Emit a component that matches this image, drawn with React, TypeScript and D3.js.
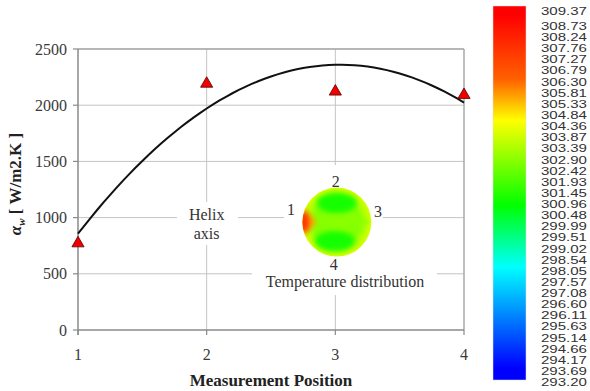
import React from 'react';
import * as d3 from 'd3';

// measured heat transfer coefficient per position
const positions = [1, 2, 3, 4];
const alphaW = [780, 2200, 2130, 2100];
const yTicks = [0, 500, 1000, 1500, 2000, 2500];

// colour legend (K)
const barLabels = [
  '309.37', '308.73', '308.24', '307.76', '307.27', '306.79', '306.30', '305.81', '305.33',
  '304.84', '304.36', '303.87', '303.39', '302.90', '302.42', '301.93', '301.45', '300.96',
  '300.48', '299.99', '299.51', '299.02', '298.54', '298.05', '297.57', '297.08', '296.60',
  '296.11', '295.63', '295.14', '294.66', '294.17', '293.69', '293.20',
];
const colourTemps = [309.6, 309.2, 306.4, 304.6, 300.9, 298.2, 293.8, 293.2];
const colourHex = ['#ff0000', '#ff0000', '#ff6000', '#ffff00', '#00ff00', '#00ffff', '#0000ff', '#0000ff'];

// inset temperature levels
const insetBase = 302.8;
const insetEdge = 304.0;
const insetCool = 301.2;
const insetBand = 302.9;
const insetWarm = 305.6;
const insetHot = 307.6;

// excel-style 2nd order trendline
function polyFit2(xs: number[], ys: number[]) {
  const S = (p: number) => d3.sum(xs, v => v ** p);
  const T = (p: number) => d3.sum(xs.map((v, i) => v ** p * ys[i]));
  const A = [[S(0), S(1), S(2), T(0)], [S(1), S(2), S(3), T(1)], [S(2), S(3), S(4), T(2)]];
  for (let i = 0; i < 3; i++) {
    for (let k = i + 1; k < 3; k++) {
      const f = A[k][i] / A[i][i];
      for (let j = i; j < 4; j++) A[k][j] -= f * A[i][j];
    }
  }
  const c = [0, 0, 0];
  for (let i = 2; i >= 0; i--) {
    let s = A[i][3];
    for (let j = i + 1; j < 3; j++) s -= A[i][j] * c[j];
    c[i] = s / A[i][i];
  }
  return c;
}

const serif = '"Liberation Serif", "Times New Roman", serif';
const sans = '"Liberation Sans", Arial, sans-serif';

export default function App() {
  const x = d3.scaleLinear().domain([1, 4]).range([78, 464]);
  const y = d3.scaleLinear().domain([0, 2500]).range([330, 49]);

  const coef = polyFit2(positions, alphaW);
  const trend = d3.range(0, 61).map(i => {
    const p = 1 + (3 * i) / 60;
    return [p, coef[0] + coef[1] * p + coef[2] * p * p] as [number, number];
  });
  const line = d3.line<[number, number]>().x(d => x(d[0])).y(d => y(d[1]));
  const tri = d3.symbol().type(d3.symbolTriangle).size(64)();

  const barY = d3.scaleLinear().domain([309.37, 293.2]).range([11, 382]);
  const colour = d3.scaleLinear<string>().domain(colourTemps).range(colourHex).clamp(true);
  const barTop = 6, barBot = 380;

  // inset anchor in data coordinates
  const cx = x(3) + 1.5, cy = y(960);
  const r = 34.5;

  return (
    <svg width={590} height={391} style={{ position: 'absolute', left: 0, top: 0, background: '#fff' }}>
      <defs>
        <linearGradient id="bar" x1="0" y1="0" x2="0" y2="1">
          {colourTemps.map((t, i) => (
            <stop key={i} offset={Math.min(1, Math.max(0, (barY(t) - barTop) / (barBot - barTop)))} stopColor={colourHex[i]} />
          ))}
        </linearGradient>
        <radialGradient id="disc" cx="0.5" cy="0.5" r="0.5">
          <stop offset="0.65" stopColor={colour(insetBase)} />
          <stop offset="1" stopColor={colour(insetEdge)} />
        </radialGradient>
        <clipPath id="discClip">
          <circle cx={cx} cy={cy} r={r} />
        </clipPath>
        <filter id="soft" x="-50%" y="-50%" width="200%" height="200%">
          <feGaussianBlur stdDeviation="2.5" />
        </filter>
      </defs>

      {/* grid */}
      {yTicks.slice(1).map(t => (
        <line key={t} x1={x(1)} x2={x(4)} y1={y(t)} y2={y(t)} stroke="#c4c4c4" strokeWidth={1} />
      ))}
      {positions.slice(1, 3).map(p => (
        <line key={p} x1={x(p)} x2={x(p)} y1={y(0)} y2={y(2500)} stroke="#c4c4c4" strokeWidth={1} />
      ))}
      <line x1={x(4)} x2={x(4)} y1={y(0)} y2={y(2500)} stroke="#a8a8a8" strokeWidth={1.5} />
      <line x1={x(1)} x2={x(4)} y1={y(2500)} y2={y(2500)} stroke="#a8a8a8" strokeWidth={1.5} />

      {/* white boxes behind annotations */}
      <rect x={177} y={202} width={61} height={43} fill="#fff" />
      <rect x={284} y={165} width={99} height={100} fill="#fff" />
      <rect x={252} y={265} width={185} height={30} fill="#fff" />

      {/* axes */}
      <line x1={x(1)} x2={x(1)} y1={y(0) + 5} y2={y(2500)} stroke="#8a8a8a" strokeWidth={1.5} />
      <line x1={x(1)} x2={x(4)} y1={y(0)} y2={y(0)} stroke="#8a8a8a" strokeWidth={1.5} />
      {yTicks.map(t => (
        <g key={t}>
          <line x1={x(1) - 5} x2={x(1)} y1={y(t)} y2={y(t)} stroke="#8a8a8a" strokeWidth={1.2} />
          <text x={67} y={y(t)} dy="0.35em" textAnchor="end" fontFamily={serif} fontSize={16} fill="#3a3a3a">{t}</text>
        </g>
      ))}
      {positions.map(p => (
        <g key={p}>
          <line x1={x(p)} x2={x(p)} y1={y(0)} y2={y(0) + 5} stroke="#8a8a8a" strokeWidth={1.2} />
          <text x={x(p)} y={354} dy="0.35em" textAnchor="middle" fontFamily={serif} fontSize={16} fill="#3a3a3a">{p}</text>
        </g>
      ))}

      <text x={271} y={386} textAnchor="middle" fontFamily={serif} fontSize={17} fontWeight="bold" fill="#222">Measurement Position</text>
      <text transform="translate(21,184) rotate(-90)" textAnchor="middle" fontFamily={serif} fontSize={17} fontWeight="bold" fill="#222">
        <tspan fontStyle="italic">α</tspan>
        <tspan fontSize={11} dy="4" fontStyle="italic">w</tspan>
        <tspan dy="-4"> [ W/m2.K ]</tspan>
      </text>

      {/* trendline & points */}
      <path d={line(trend) ?? ''} fill="none" stroke="#111" strokeWidth={2} />
      {positions.map((p, i) => (
        <path key={p} d={tri ?? ''} transform={`translate(${x(p)},${y(alphaW[i]) + 1})`} fill="#f00000" stroke="#5a0000" strokeWidth={0.8} />
      ))}

      {/* annotation: helix axis */}
      <text x={x(2)} y={214} dy="0.35em" textAnchor="middle" fontFamily={serif} fontSize={16} fill="#333">Helix</text>
      <text x={x(2)} y={233} dy="0.35em" textAnchor="middle" fontFamily={serif} fontSize={16} fill="#333">axis</text>

      {/* inset temperature distribution */}
      <circle cx={cx} cy={cy} r={r} fill="url(#disc)" />
      <g clipPath="url(#discClip)">
        <g filter="url(#soft)">
          <ellipse cx={cx} cy={cy - 19} rx={20} ry={10} fill={colour(insetCool)} />
          <ellipse cx={cx - 2} cy={cy + 19} rx={20} ry={10} fill={colour(insetCool)} />
          <ellipse cx={cx + 8} cy={cy} rx={24} ry={4.5} fill={colour(insetBand)} />
          <path d={`M${cx - r},${cy - 16} L${cx - 20},${cy} L${cx - r},${cy + 16} Z`} fill={colour(insetWarm)} />
          <ellipse cx={cx - r + 2} cy={cy} rx={6} ry={11} fill={colour(insetHot)} />
        </g>
      </g>
      <text x={cx - 1} y={181} dy="0.35em" textAnchor="middle" fontFamily={serif} fontSize={16} fill="#333">2</text>
      <text x={291} y={209} dy="0.35em" textAnchor="middle" fontFamily={serif} fontSize={16} fill="#333">1</text>
      <text x={378} y={211} dy="0.35em" textAnchor="middle" fontFamily={serif} fontSize={16} fill="#333">3</text>
      <text x={cx - 3} y={264} dy="0.35em" textAnchor="middle" fontFamily={serif} fontSize={16} fill="#333">4</text>
      <text x={345} y={281} dy="0.35em" textAnchor="middle" fontFamily={serif} fontSize={16} fill="#333">Temperature distribution</text>

      {/* colour bar */}
      <rect x={493} y={barTop} width={33} height={barBot - barTop} fill="url(#bar)" stroke="#ddd" strokeWidth={0.5} />
      {barLabels.map(l => (
        <text key={l} x={541} y={barY(+l)} dy="0.36em" fontFamily={sans} fontSize={11.5} fill="#333"
          textLength={46} lengthAdjust="spacingAndGlyphs">{l}</text>
      ))}
    </svg>
  );
}
